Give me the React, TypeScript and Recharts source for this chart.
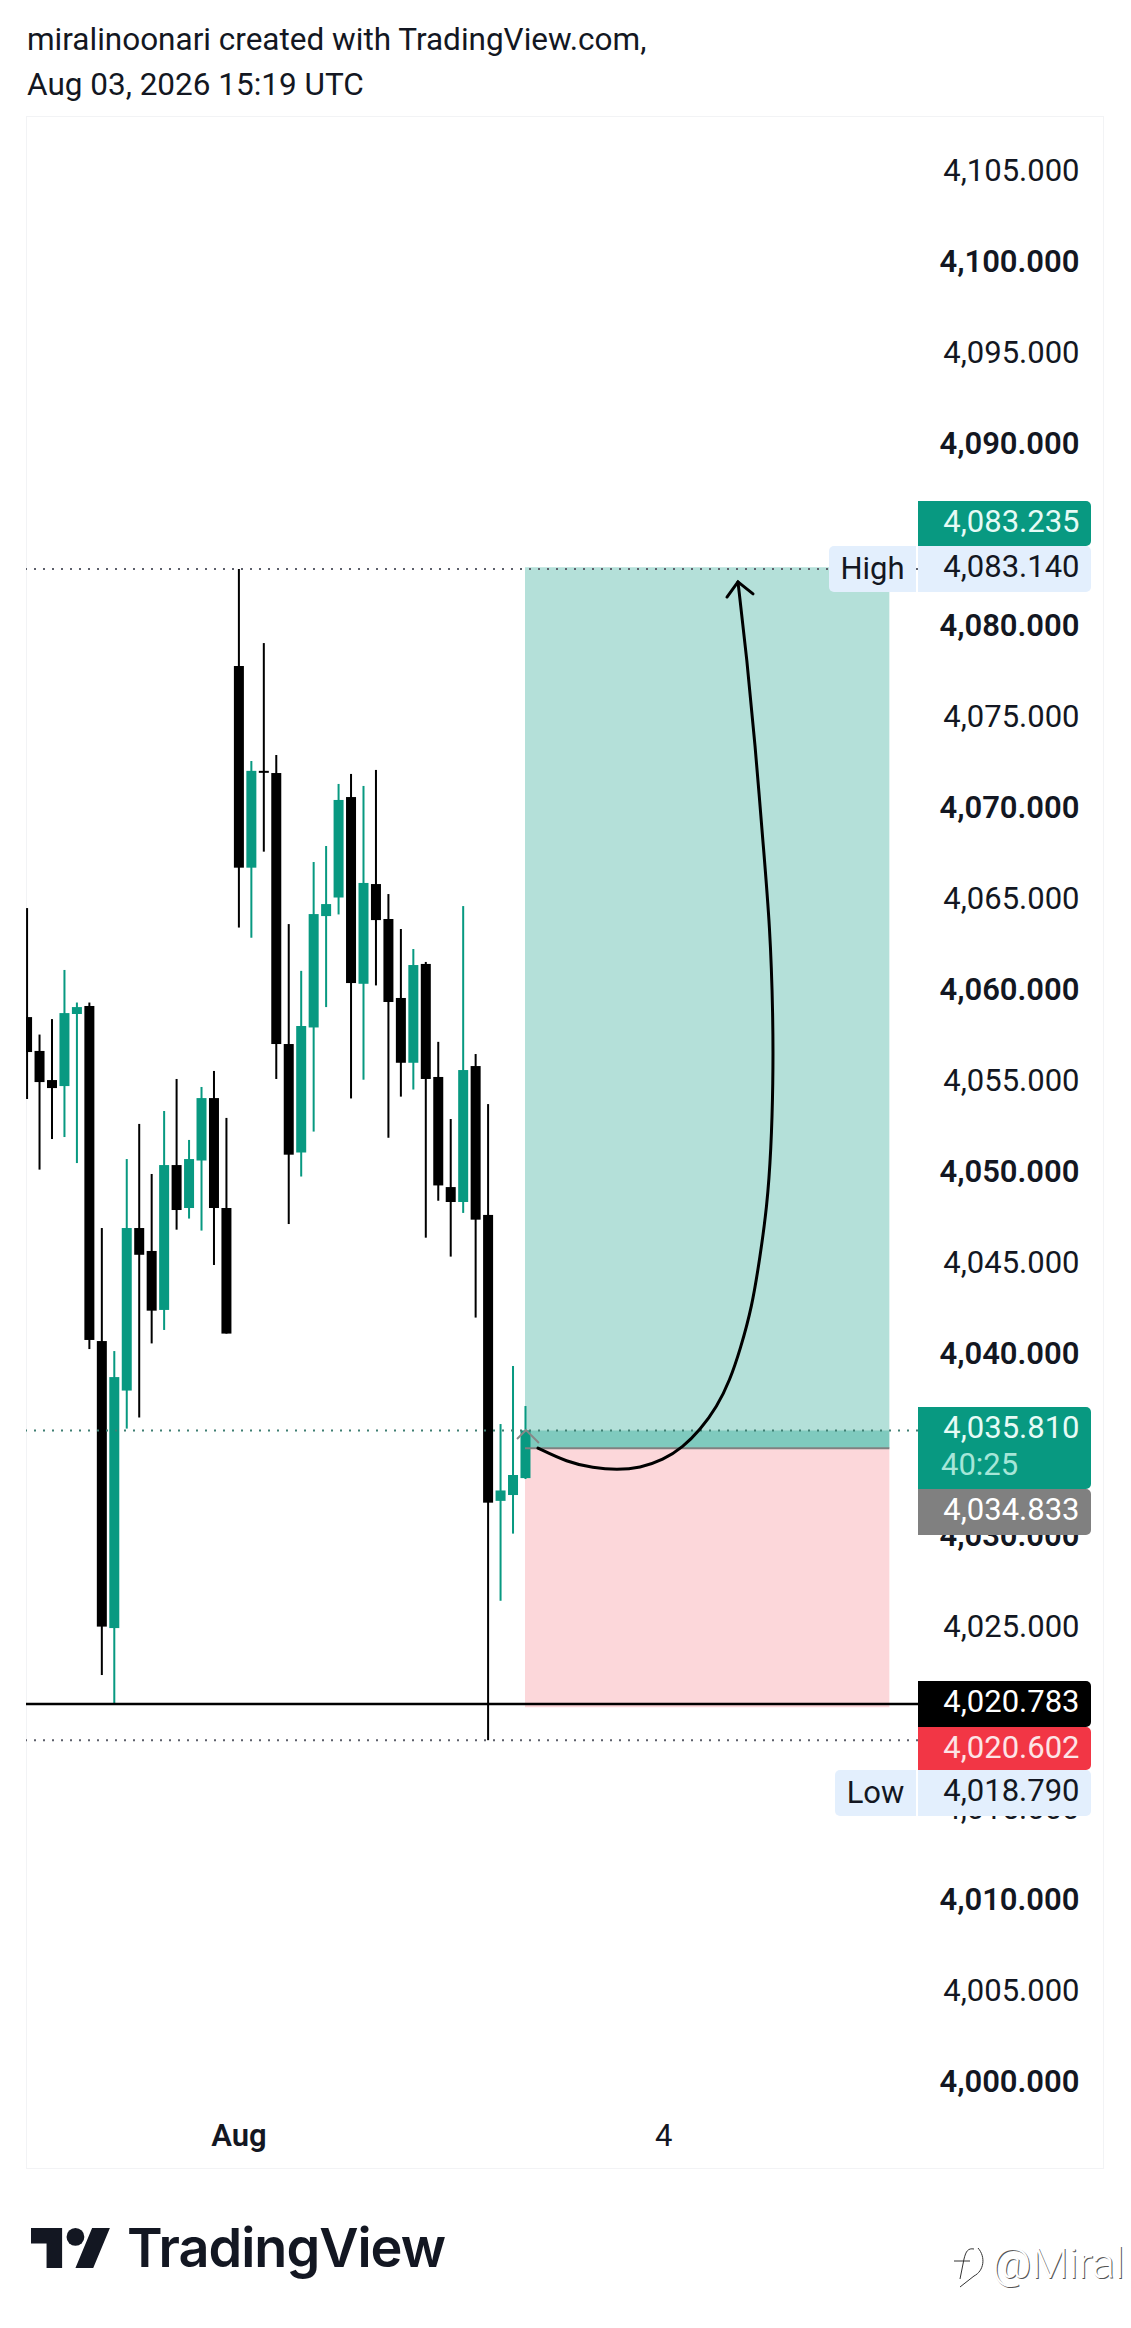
import React from 'react';
import { Bar, ComposedChart, ReferenceArea, ReferenceLine, Scatter, XAxis, YAxis } from 'recharts';

const UP = '#089981';
const DOWN = '#000000';
const FONT = 'Roboto, sans-serif';
const BODY_WIDTH = 10;

const opens = [4058.52, 4056.66, 4055.06, 4054.73, 4058.69, 4059.13, 4040.72, 4024.95, 4038.0, 4046.93, 4045.67, 4042.43, 4050.39, 4048.03, 4050.64, 4054.07, 4048.03, 4077.81, 4066.73, 4072.05, 4071.93, 4057.04, 4051.08, 4057.95, 4064.07, 4065.09, 4070.61, 4060.35, 4065.83, 4063.91, 4059.57, 4056.01, 4061.44, 4055.23, 4049.18, 4048.36, 4055.83, 4047.65, 4031.94, 4032.26, 4033.19];
const highs = [4064.51, 4057.56, 4058.41, 4061.11, 4059.32, 4059.32, 4046.93, 4040.17, 4050.72, 4052.65, 4049.9, 4053.36, 4055.12, 4051.77, 4054.68, 4055.56, 4052.98, 4083.14, 4072.59, 4079.07, 4072.92, 4063.63, 4061.06, 4067.04, 4067.92, 4071.33, 4071.88, 4071.22, 4072.1, 4065.28, 4063.36, 4062.26, 4061.55, 4057.16, 4052.92, 4064.62, 4056.49, 4053.74, 4036.16, 4039.35, 4037.15];
const lows = [4054.02, 4050.14, 4051.82, 4051.93, 4050.5, 4040.28, 4022.37, 4020.78, 4035.91, 4036.52, 4040.59, 4041.33, 4046.84, 4047.45, 4046.79, 4044.9, 4041.13, 4063.44, 4062.88, 4067.61, 4055.12, 4047.15, 4049.76, 4052.23, 4059.07, 4064.16, 4054.05, 4055.08, 4060.26, 4051.89, 4054.15, 4054.54, 4046.4, 4048.43, 4045.36, 4047.76, 4042.01, 4018.79, 4026.45, 4030.14, 4033.14];
const closes = [4056.6, 4054.95, 4054.62, 4058.74, 4059.07, 4040.78, 4025.03, 4038.74, 4046.93, 4045.46, 4042.39, 4050.39, 4047.92, 4050.72, 4054.07, 4048.03, 4041.13, 4066.73, 4072.05, 4072.0, 4057.04, 4050.96, 4058.03, 4064.18, 4064.73, 4070.45, 4060.39, 4065.89, 4063.85, 4059.35, 4056.01, 4061.38, 4055.12, 4049.27, 4048.36, 4055.61, 4047.39, 4031.84, 4032.51, 4033.36, 4035.81];

const priceTicks = [4000, 4005, 4010, 4015, 4020, 4025, 4030, 4035, 4040, 4045, 4050, 4055, 4060, 4065, 4070, 4075, 4080, 4085, 4090, 4095, 4100, 4105];
const timeTicks = [17, 51.1];
const timeLabels: Record<number, string> = { 17: 'Aug', 51.1: '4' };

const arrowIdx = [41.0, 43.33, 45.43, 47.35, 49.19, 51.04, 52.65, 54.0, 55.37, 56.41, 57.22, 58.18, 58.82, 59.38, 59.71, 59.87, 59.87, 59.63, 59.06, 58.42, 57.78, 57.05];
const arrowPrice = [4034.84, 4034.07, 4033.75, 4033.64, 4033.75, 4034.18, 4034.9, 4035.83, 4037.1, 4038.58, 4040.23, 4042.59, 4045.34, 4048.08, 4051.22, 4054.9, 4058.52, 4063.47, 4068.09, 4073.58, 4078.14, 4082.43];
const headIdx = [56.17, 57.05, 58.26];
const headPrice = [4081.6, 4082.43, 4081.77];
const chevronIdx = [39.32, 40.04, 41.08];
const chevronPrice = [4035.34, 4035.83, 4035.12];

const HIGH = 4083.14;
const LOW = 4018.79;
const LAST = 4035.81;
const TARGET = 4083.235;
const ENTRY = 4034.833;
const STOP = 4020.602;
const DRAWN_LEVEL = 4020.783;

const candles = opens.map((open, i) => ({
  idx: i,
  open,
  high: highs[i],
  low: lows[i],
  close: closes[i],
  range: [lows[i], highs[i]],
}));
const toPoints = (xs: number[], ys: number[]) => xs.map((idx, i) => ({ idx, price: ys[i] }));

function Candle(props: any) {
  const { x, y, width, height, payload } = props;
  const perUnit = height / (payload.high - payload.low);
  const color = payload.close >= payload.open ? UP : DOWN;
  const center = x + width / 2;
  const bodyTop = y + (payload.high - Math.max(payload.open, payload.close)) * perUnit;
  const bodyH = Math.max(Math.abs(payload.open - payload.close) * perUnit, 2);
  return (
    <g>
      <rect x={center - 1} y={y} width={2} height={height} fill={color} />
      <rect x={center - BODY_WIDTH / 2} y={bodyTop} width={BODY_WIDTH} height={bodyH} fill={color} />
    </g>
  );
}

function PriceTick(props: any) {
  const { y, payload } = props;
  const v = payload.value;
  return (
    <text x={1079.5} y={y - 1} textAnchor="end" dominantBaseline="central" fontFamily={FONT} fontSize={31} fontWeight={v % 10 === 0 ? 600 : 400} fill="#131722">
      {v.toLocaleString('en-US', { minimumFractionDigits: 3 })}
    </text>
  );
}

function TimeTick(props: any) {
  const { x, payload } = props;
  return (
    <text x={x} y={2135} textAnchor="middle" dominantBaseline="central" fontFamily={FONT} fontSize={31} fontWeight={payload.value === 17 ? 600 : 400} fill="#131722">
      {timeLabels[payload.value]}
    </text>
  );
}

function Tag({ top, height, bg, color, text, sub }: any) {
  return (
    <div style={{ position: 'absolute', left: 918, top, width: 173, height, background: bg, borderRadius: '0 5px 5px 0', fontFamily: FONT, fontSize: 31, color, lineHeight: '37px' }}>
      <div style={{ position: 'absolute', right: 11.5, top: 2 }}>{text}</div>
      {sub && <div style={{ position: 'absolute', left: 23, top: 39, color: '#a6e6d8' }}>{sub}</div>}
    </div>
  );
}

function SideTag({ left, top, text }: any) {
  return (
    <div style={{ position: 'absolute', left, top, width: 916 - left, height: 46, background: '#e3effd', borderRadius: '5px 0 0 5px', fontFamily: FONT, fontSize: 31, color: '#131722', lineHeight: '46px', textAlign: 'center' }}>
      {text}
    </div>
  );
}

export default function App() {
  return (
    <div style={{ position: 'absolute', left: 0, top: 0, width: 1131, height: 2328, background: '#fff', overflow: 'hidden' }}>
      <div style={{ position: 'absolute', left: 27, top: 17, fontFamily: FONT, fontSize: 31.5, lineHeight: '45px', color: '#131722', whiteSpace: 'nowrap' }}>
        <div>miralinoonari created with TradingView.com,</div>
        <div>Aug 03, 2026 15:19 UTC</div>
      </div>
      <div style={{ position: 'absolute', left: 26, top: 116, width: 1078, height: 2053, border: '1px solid #f2f3f5', boxSizing: 'border-box' }} />
      <div style={{ position: 'absolute', left: 0, top: 0 }}>
        <ComposedChart width={1131} height={2328} data={candles} margin={{ top: 116, right: 27, bottom: 159, left: 26 }}>
          <XAxis dataKey="idx" type="number" domain={[-0.088, 71.5]} allowDataOverflow ticks={timeTicks} interval={0} height={69} tick={<TimeTick />} axisLine={false} tickLine={false} />
          <YAxis dataKey="price" orientation="right" type="number" domain={[3999.02, 4108.03]} allowDataOverflow ticks={priceTicks} interval={0} width={186} tick={<PriceTick />} axisLine={false} tickLine={false} />
          <ReferenceArea x1={39.96} x2={69.2} y1={ENTRY} y2={TARGET} fill={UP} fillOpacity={0.3} stroke="none" />
          <ReferenceArea x1={39.96} x2={69.2} y1={STOP} y2={ENTRY} fill="#f23645" fillOpacity={0.2} stroke="none" />
          <ReferenceArea x1={39.96} x2={69.2} y1={ENTRY} y2={LAST} fill={UP} fillOpacity={0.3} stroke="none" />
          <ReferenceLine segment={[{ x: 39.96, y: ENTRY }, { x: 69.2, y: ENTRY }]} stroke="#808080" strokeWidth={2} />
          <ReferenceLine y={HIGH} stroke="#5d606b" strokeWidth={2} strokeDasharray="2 7" />
          <ReferenceLine y={LAST} stroke="#3f7f73" strokeWidth={2} strokeDasharray="2 7" />
          <ReferenceLine y={LOW} stroke="#5d606b" strokeWidth={2} strokeDasharray="2 7" />
          <Scatter data={toPoints(chevronIdx, chevronPrice)} line={{ stroke: '#888888', strokeWidth: 2, fill: 'none' }} shape={() => null} isAnimationActive={false} />
          <Bar dataKey="range" barSize={BODY_WIDTH} shape={<Candle />} isAnimationActive={false} />
          <ReferenceLine y={DRAWN_LEVEL} stroke="#000000" strokeWidth={2.5} />
          <Scatter data={toPoints(arrowIdx, arrowPrice)} line={{ stroke: '#000000', strokeWidth: 3, fill: 'none', strokeLinecap: 'round' }} lineJointType="basis" shape={() => null} isAnimationActive={false} />
          <Scatter data={toPoints(headIdx, headPrice)} line={{ stroke: '#000000', strokeWidth: 3, fill: 'none', strokeLinecap: 'round' }} shape={() => null} isAnimationActive={false} />
        </ComposedChart>
      </div>

      <Tag top={501} height={45} bg={UP} color="#e6fbf6" text="4,083.235" />
      <SideTag left={829} top={546} text="High" />
      <Tag top={546} height={46} bg="#e3effd" color="#131722" text="4,083.140" />
      <Tag top={1407} height={82} bg={UP} color="#e6fbf6" text="4,035.810" sub="40:25" />
      <Tag top={1489} height={46} bg="#808080" color="#ffffff" text="4,034.833" />
      <Tag top={1681} height={46} bg="#000000" color="#ffffff" text="4,020.783" />
      <Tag top={1727} height={43} bg="#f23645" color="#fde4e6" text="4,020.602" />
      <SideTag left={835} top={1770} text="Low" />
      <Tag top={1770} height={46} bg="#e3effd" color="#131722" text="4,018.790" />

      <svg style={{ position: 'absolute', left: 31, top: 2228 }} width={80} height={40} viewBox="0 4 36 18">
        <path d="M14 22H7V11H0V4h14v18zM28 22h-8l7.5-18h8L28 22z" fill="#131722" />
        <circle cx={20} cy={8} r={4} fill="#131722" />
      </svg>
      <div style={{ position: 'absolute', left: 127, top: 2216, fontFamily: 'Inter, sans-serif', fontSize: 54, fontWeight: 600, lineHeight: '64px', color: '#131722', whiteSpace: 'nowrap', letterSpacing: -1 }}>
        TradingView
      </div>

      <svg style={{ position: 'absolute', left: 950, top: 2245 }} width={42} height={50} fill="none" stroke="#333" strokeWidth={1}>
        <path d="M24 4 C18 3 16 6 14 14 L10 34 M4 16 H20 M28 3 C36 12 34 26 24 31 L10 42" />
      </svg>
      <div style={{ position: 'absolute', left: 992, top: 2238, fontFamily: FONT, fontWeight: 300, fontSize: 43, lineHeight: '50px', color: '#ffffff', textShadow: '1px 1px 0 #555', whiteSpace: 'nowrap' }}>
        @Miral
      </div>
    </div>
  );
}
